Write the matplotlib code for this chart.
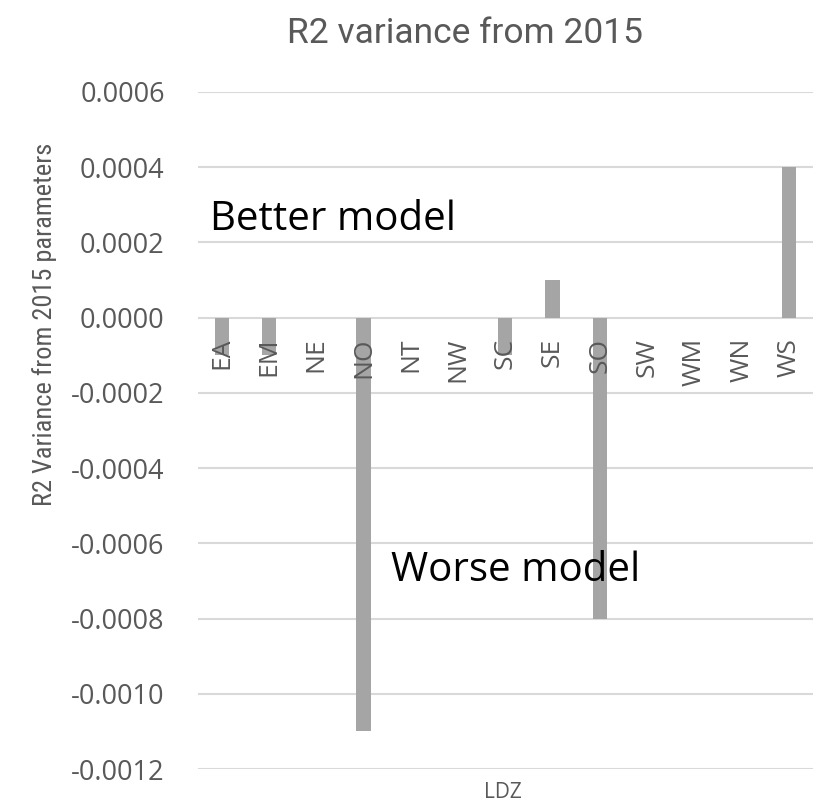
import matplotlib
matplotlib.use("Agg")
import matplotlib.pyplot as plt

# data
regions = ["EA", "EM", "NE", "NO", "NT", "NW", "SC", "SE", "SO", "SW", "WM", "WN", "WS"]
variance = [-0.0001, -0.0001, 0, -0.0011, 0, 0, -0.0001, 0.0001, -0.0008, 0, 0, 0, 0.0004]
yticks = [0.0006, 0.0004, 0.0002, 0.0, -0.0002, -0.0004, -0.0006, -0.0008, -0.0010, -0.0012]

tickfont = "Open Sans"
text_col = "#595959"

fig = plt.figure(figsize=(8.25, 8.09), dpi=100)
ax = fig.add_axes([0.24, 0.0494, 0.745, 0.8369])

x = list(range(len(regions)))
ax.bar(x, variance, width=0.3, color="#A5A5A5", zorder=1)

ax.set_xlim(-0.5, len(regions) - 0.5)
ax.set_ylim(-0.0012, 0.0006)
ax.set_yticks(yticks)
ax.set_yticklabels([f"{v:.4f}" for v in yticks], family=tickfont, fontsize=19.5, color=text_col)
ax.yaxis.grid(True, color="#D9D9D9", linewidth=1.5)
ax.set_axisbelow(True)
for s in ax.spines.values():
    s.set_visible(False)
ax.set_xticks([])
ax.tick_params(axis="y", length=0, pad=24)

# category labels sit just under the zero line, drawn over the bars
for xi, name in zip(x, regions):
    ax.annotate(name, (xi, 0), xytext=(0, -20), textcoords="offset pixels",
                rotation=90, ha="center", va="top", family=tickfont,
                fontsize=19, color=text_col, zorder=5)

fig.text(0.564, 0.947, "R2 variance from 2015", family="Roboto", fontsize=25.5,
         color=text_col, ha="center", va="baseline")
fig.text(0.054, 0.599, "R2 Variance from 2015 parameters", family="Roboto Condensed",
         fontsize=19, color=text_col, ha="center", va="center", rotation=90)
fig.text(0.61, 0.02, "LDZ", family=tickfont, fontsize=15, color=text_col,
         ha="center", va="center")

ax.text(-0.25, 0.000233, "Better model", family=tickfont, fontsize=29, color="black",
        va="baseline", ha="left")
ax.text(3.58, -0.000699, "Worse model", family=tickfont, fontsize=29, color="black",
        va="baseline", ha="left")

fig.savefig("out.png", dpi=100)
